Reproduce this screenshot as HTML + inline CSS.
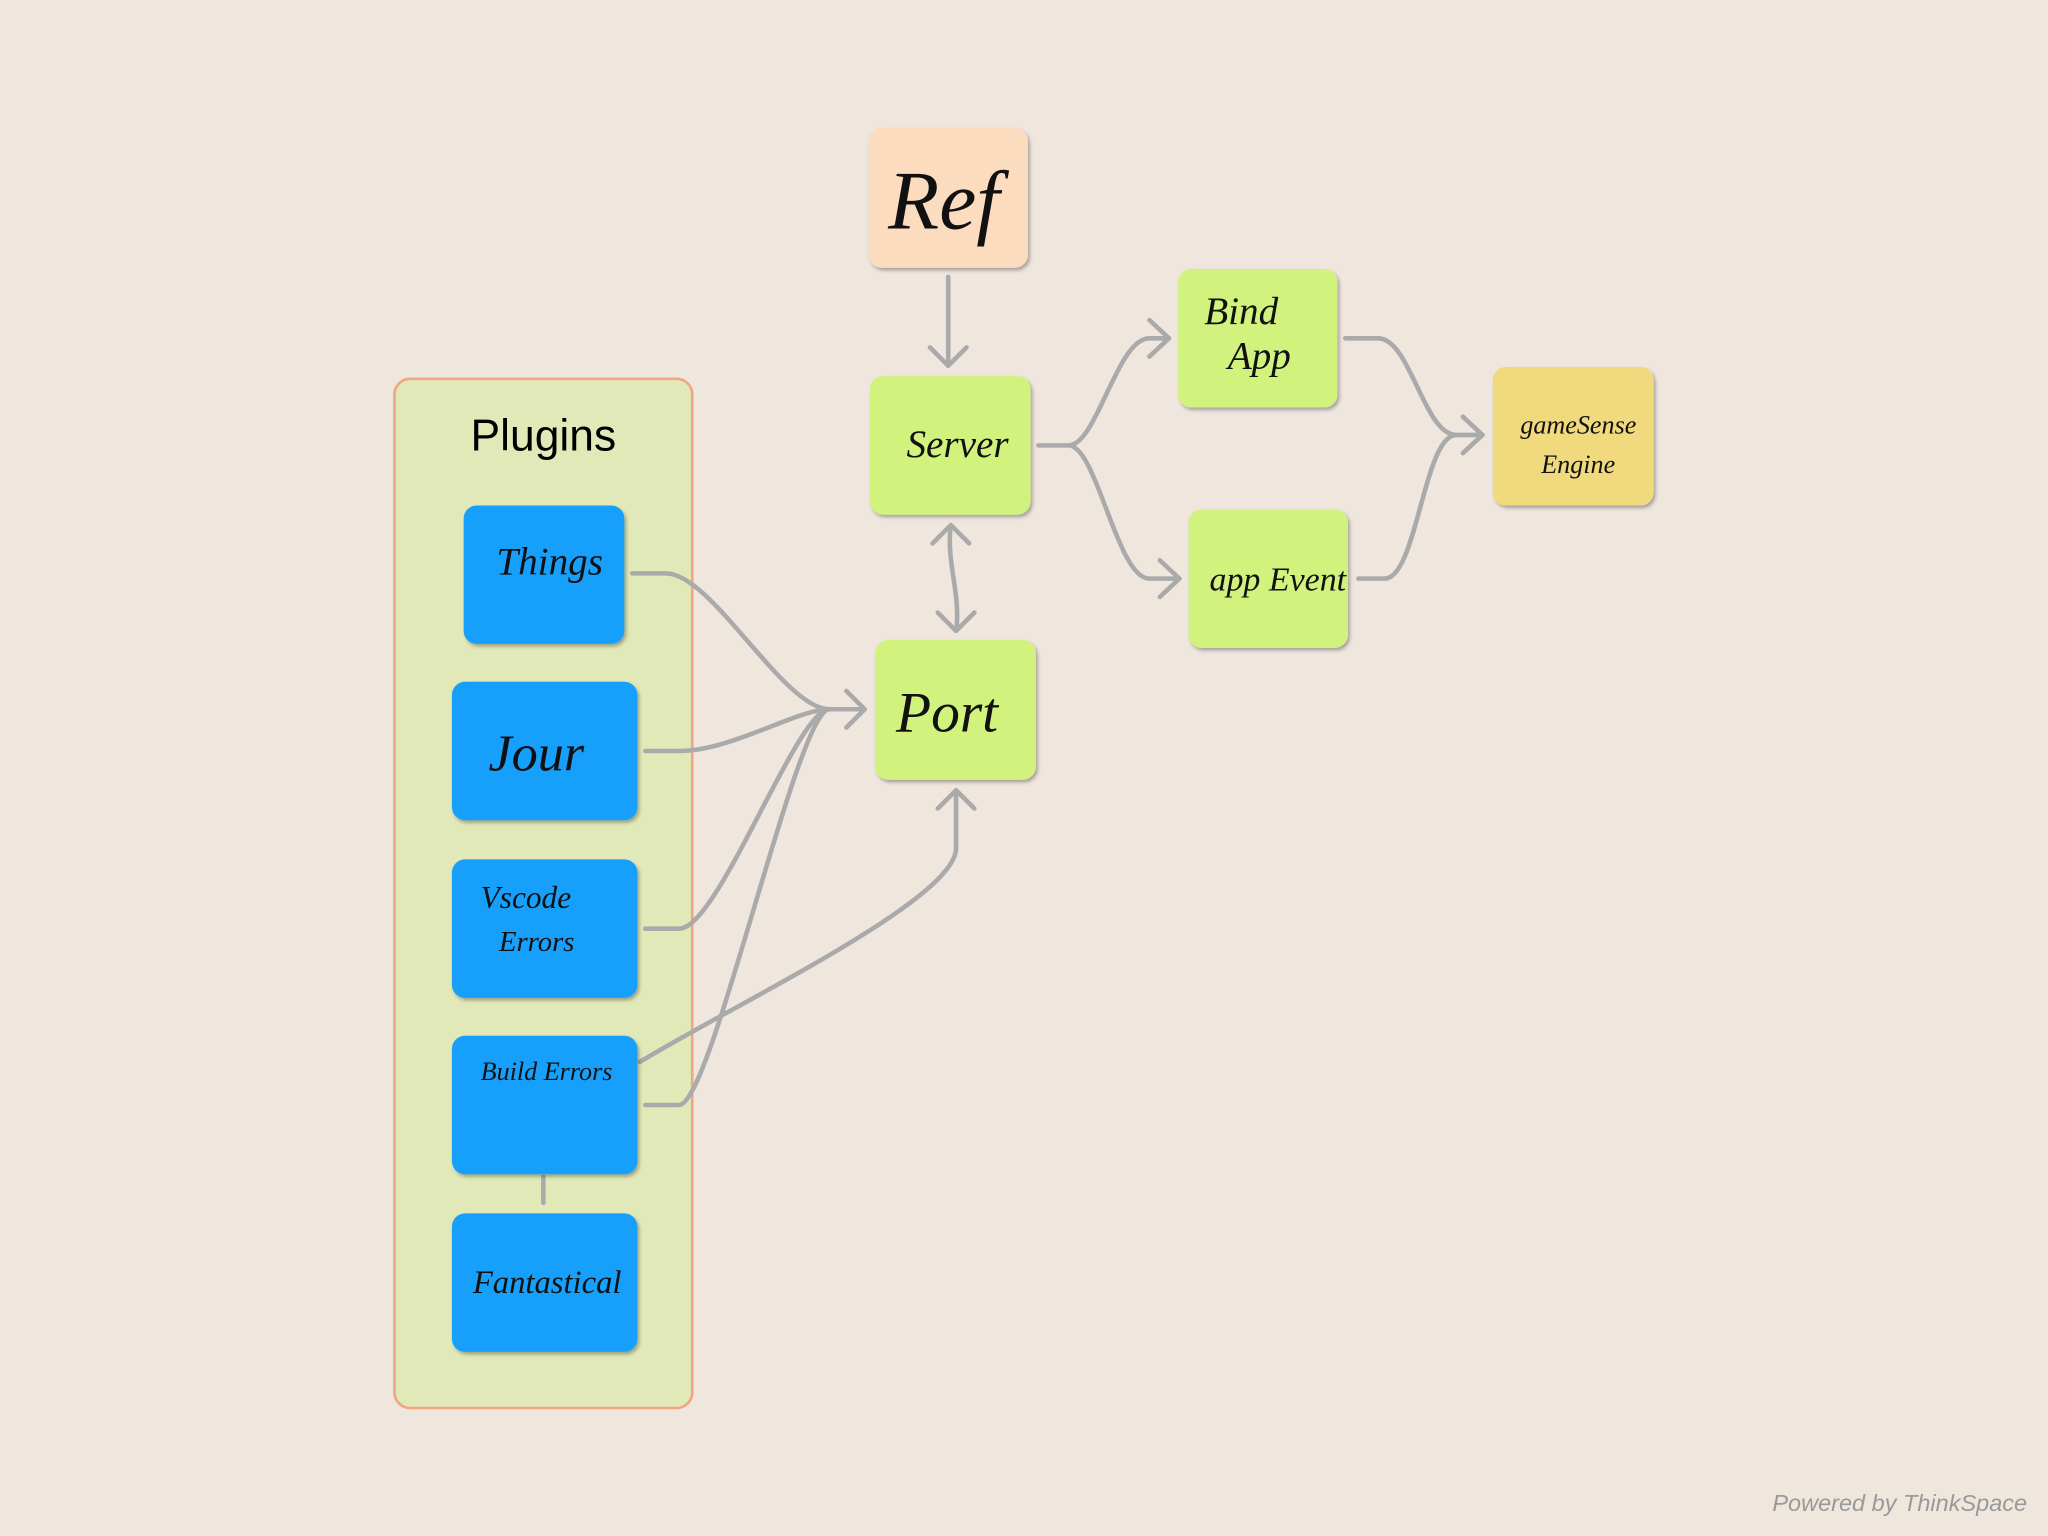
<!DOCTYPE html>
<html><head><meta charset="utf-8"><style>
html,body{margin:0;padding:0;background:#efe6de;}
svg{display:block}
.h{font-family:"Liberation Serif",serif;font-style:italic;fill:#111;}
</style></head><body>
<svg width="2048" height="1536" viewBox="0 0 1568 1176" xmlns="http://www.w3.org/2000/svg">
<defs>
<filter id="sh" x="-20%" y="-20%" width="140%" height="140%"><feDropShadow dx="1.5" dy="2" stdDeviation="1.5" flood-color="#000" flood-opacity="0.3"/></filter>
</defs>
<rect width="1568" height="1176" fill="#efe6de"/>
<rect x="302" y="290" width="228" height="788" rx="12" fill="#e2e9b8" stroke="#f3a581" stroke-width="2"/>
<text x="416" y="345" font-family="Liberation Sans, sans-serif" font-size="34" text-anchor="middle" fill="#000">Plugins</text>
<g fill="none" stroke="#aaaaaa" stroke-width="3.5" stroke-linecap="round" stroke-linejoin="round">
<path d="M726 212 L726 280"/><path d="M712 266 L726 280 L740 266"/>
<path d="M728 402 C724 430 736 455 732 483"/><path d="M714 416 L728 402 L742 416"/><path d="M718 469 L732 483 L746 469"/>
<path d="M795 341 L818 341 C840 341 855 259 880 259 L895 259"/><path d="M880 245 L895 259 L880 273"/>
<path d="M818 341 C840 341 855 443 880 443 L903 443"/><path d="M888 429 L903 443 L888 457"/>
<path d="M1030 259 L1055 259 C1080 259 1090 333 1115 333 L1135 333"/>
<path d="M1040 443 L1060 443 C1085 443 1090 333 1115 333"/><path d="M1120 319 L1135 333 L1120 347"/>
<path d="M484 439 L510 439 C545 439 600 543 635 543 L662 543"/><path d="M648 529 L662 543 L648 557"/>
<path d="M494 575 L520 575 C560 575 610 543 635 543"/>
<path d="M494 711 L520 711 C550 711 610 543 635 543"/>
<path d="M494 846 L520 846 C545 846 610 543 635 543"/>
<path d="M490 813 C560 770 730 690 732 650 L732 605"/><path d="M718 619 L732 605 L746 619"/>
<path d="M416 901 L416 921"/>
</g>
<g filter="url(#sh)">
<rect x="355" y="387" width="123" height="106" rx="10" fill="#12a0fb"/>
<rect x="346" y="522" width="142" height="106" rx="10" fill="#12a0fb"/>
<rect x="346" y="658" width="142" height="106" rx="10" fill="#12a0fb"/>
<rect x="346" y="793" width="142" height="106" rx="10" fill="#12a0fb"/>
<rect x="346" y="929" width="142" height="106" rx="10" fill="#12a0fb"/>
<rect x="665" y="98" width="122" height="107" rx="10" fill="#fcdcbf"/>
<rect x="666" y="288" width="123" height="106" rx="10" fill="#d2f27e"/>
<rect x="670" y="490" width="123" height="107" rx="10" fill="#d2f27e"/>
<rect x="902" y="206" width="122" height="106" rx="10" fill="#d2f27e"/>
<rect x="910" y="390" width="122" height="106" rx="10" fill="#d2f27e"/>
<rect x="1143" y="281" width="123" height="106" rx="10" fill="#f0da7d"/>
</g>
<text class="h" x="380" y="440" font-size="30">Things</text>
<text class="h" x="374" y="590" font-size="40">Jour</text>
<text class="h" x="368" y="695" font-size="24">Vscode</text>
<text class="h" x="382" y="728" font-size="22">Errors</text>
<text class="h" x="368" y="827" font-size="20">Build Errors</text>
<text class="h" x="362" y="990" font-size="25">Fantastical</text>
<text class="h" x="680" y="175" font-size="64">Ref</text>
<text class="h" x="694" y="350" font-size="30">Server</text>
<text class="h" x="686" y="560" font-size="44">Port</text>
<text class="h" x="922" y="248" font-size="30">Bind</text>
<text class="h" x="940" y="282" font-size="30">App</text>
<text class="h" x="926" y="452" font-size="26">app Event</text>
<text class="h" x="1164" y="332" font-size="20">gameSense</text>
<text class="h" x="1180" y="362" font-size="20">Engine</text>
<text x="1552" y="1157" font-family="Liberation Sans, sans-serif" font-style="italic" font-size="18" text-anchor="end" fill="#999">Powered by ThinkSpace</text>
</svg>
</body></html>
